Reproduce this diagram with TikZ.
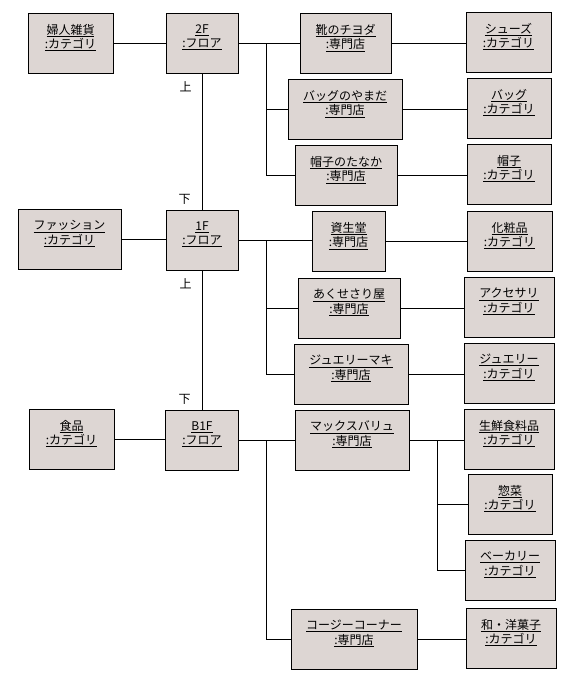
\documentclass[tikz,border=0pt]{standalone}
\usepackage{fontspec}
\usepackage{tikz}
\setmainfont{Noto Sans CJK JP}
\definecolor{objfill}{RGB}{221,214,211}
% two underlined lines at the top of an object box
\newcommand{\obj}[2]{\vbox to 60pt{\vskip 11pt\hbox{\begin{tabular}{@{}c@{}}\underline{#1}\\\underline{:#2}\end{tabular}}\vfil}}

\begin{document}
\begin{tikzpicture}[x=1pt,y=-1pt,line width=0.8pt]
\tikzstyle{every node}=[font=\fontsize{12}{14}\selectfont]
\tikzstyle{object}=[draw,fill=objfill,inner sep=0pt,minimum height=60pt]
\tikzstyle{updown}=[inner sep=0pt]
\useasboundingbox (0,0) rectangle (581,694);

% floors
\node[object,minimum width=72pt] (f2) at (202,43) {\obj{2F}{フロア}};
\node[object,minimum width=72pt] (f1) at (202,240) {\obj{1F}{フロア}};
\node[object,minimum width=73pt] (fb) at (202,440) {\obj{B1F}{フロア}};

% categories of the floors
\node[object,minimum width=85pt] (hu) at (70.5,43) {\obj{婦人雑貨}{カテゴリ}};
\node[object,minimum width=103pt] (fa) at (69.5,239) {\obj{ファッション}{カテゴリ}};
\node[object,minimum width=85pt] (sh) at (71.5,439) {\obj{食品}{カテゴリ}};

% shops
\node[object,minimum width=91pt] (s1) at (345.5,43) {\obj{靴のチヨダ}{専門店}};
\node[object,minimum width=114pt] (s2) at (345,109) {\obj{バッグのやまだ}{専門店}};
\node[object,minimum width=102pt] (s3) at (346,175) {\obj{帽子のたなか}{専門店}};
\node[object,minimum width=73pt] (s4) at (348.5,241) {\obj{資生堂}{専門店}};
\node[object,minimum width=102pt] (s5) at (349,308) {\obj{あくせさり屋}{専門店}};
\node[object,minimum width=114pt] (s6) at (351,374) {\obj{ジュエリーマキ}{専門店}};
\node[object,minimum width=114pt] (s7) at (352,440) {\obj{マックスバリュ}{専門店}};
\node[object,minimum width=126pt] (s8) at (354,639) {\obj{コージーコーナー}{専門店}};

% categories of the shops
\node[object,minimum width=85pt] (c1) at (508.5,42) {\obj{シューズ}{カテゴリ}};
\node[object,minimum width=84pt] (c2) at (509,108) {\obj{バッグ}{カテゴリ}};
\node[object,minimum width=84pt] (c3) at (509,174) {\obj{帽子}{カテゴリ}};
\node[object,minimum width=85pt] (c4) at (509.5,241) {\obj{化粧品}{カテゴリ}};
\node[object,minimum width=90pt] (c5) at (509,307) {\obj{アクセサリ}{カテゴリ}};
\node[object,minimum width=90pt] (c6) at (509,373) {\obj{ジュエリー}{カテゴリ}};
\node[object,minimum width=90pt] (c7) at (509,439) {\obj{生鮮食料品}{カテゴリ}};
\node[object,minimum width=84pt] (c8) at (510,504) {\obj{惣菜}{カテゴリ}};
\node[object,minimum width=90pt] (c9) at (510,570) {\obj{ベーカリー}{カテゴリ}};
\node[object,minimum width=90pt] (c10) at (511,638) {\obj{和・洋菓子}{カテゴリ}};

% floor to floor
\draw (f2.south) -- node[at start,updown,anchor=north east,xshift=-10pt,yshift=-8pt] {上}
      node[at end,updown,anchor=south east,xshift=-11pt,yshift=5pt] {下} (f2.south |- f1.north);
\draw (f1.south) -- node[at start,updown,anchor=north east,xshift=-10pt,yshift=-8pt] {上}
      node[at end,updown,anchor=south east,xshift=-11pt,yshift=5pt] {下} (f1.south |- fb.north);

% floor to category
\draw (hu.east) -- (hu.east -| f2.west);
\draw (fa.east) -- (fa.east -| f1.west);
\draw (sh.east) -- (sh.east -| fb.west);

% floor to shops
\draw (f2.east) -- (f2.east -| s1.west);
\draw (f2.east) -- ++(28,0) |- (s2.west);
\draw (f2.east) -- ++(28,0) |- (s3.west);
\draw (f1.east) -- (f1.east -| s4.west);
\draw (f1.east) -- ++(28,0) |- (s5.west);
\draw (f1.east) -- ++(28,0) |- (s6.west);
\draw (fb.east) -- (fb.east -| s7.west);
\draw (fb.east) -- ++(27,0) |- (s8.west);

% shop to category
\draw (s1.east) -- (s1.east -| c1.west);
\draw (s2.east) -- (s2.east -| c2.west);
\draw (s3.east) -- (s3.east -| c3.west);
\draw (s4.east) -- (s4.east -| c4.west);
\draw (s5.east) -- (s5.east -| c5.west);
\draw (s6.east) -- (s6.east -| c6.west);
\draw (s7.east) -- (s7.east -| c7.west);
\draw (s7.east) -- ++(28,0) |- (c8.west);
\draw (s7.east) -- ++(28,0) |- (c9.west);
\draw (s8.east) -- (s8.east -| c10.west);

\end{tikzpicture}
\end{document}
